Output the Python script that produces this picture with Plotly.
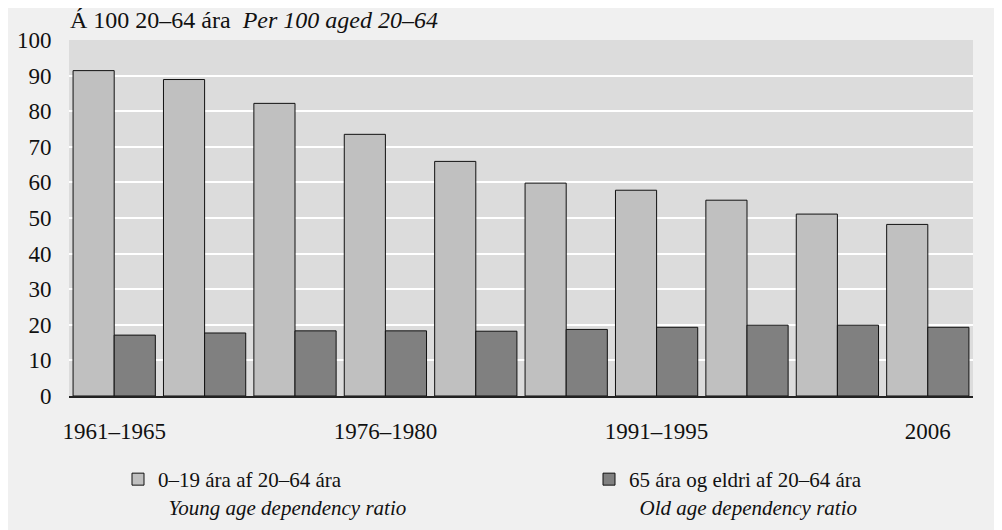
import plotly.graph_objects as go

categories = ["1961–1965", "1966–1970", "1971–1975", "1976–1980", "1981–1985",
              "1986–1990", "1991–1995", "1996–2000", "2001–2005", "2006"]
young = [91.4, 88.9, 82.2, 73.5, 65.9, 59.8, 57.8, 55.0, 51.1, 48.2]
old = [17.1, 17.7, 18.3, 18.3, 18.2, 18.7, 19.3, 19.9, 19.9, 19.3]
labelled = ["1961–1965", "1976–1980", "1991–1995", "2006"]
y_ticks = [0, 10, 20, 30, 40, 50, 60, 70, 80, 90, 100]

name_young = "0–19 ára af 20–64 ára<br>  <i>Young age dependency ratio</i>"
name_old = "65 ára og eldri af 20–64 ára<br>  <i>Old age dependency ratio</i>"
title_text = "Á 100 20–64 ára  <i>Per 100 aged 20–64</i>"

FONT = "Liberation Serif"

fig = go.Figure()
fig.add_trace(go.Bar(x=categories, y=young, name=name_young, legend="legend",
                     marker=dict(color="#c0c0c0", line=dict(color="#111111", width=1))))
fig.add_trace(go.Bar(x=categories, y=old, name=name_old, legend="legend2",
                     marker=dict(color="#808080", line=dict(color="#111111", width=1))))

leg_common = dict(yref="container", xref="container", y=1 - 451 / 530, yanchor="top",
                  xanchor="left", bgcolor="rgba(0,0,0,0)",
                  font=dict(family=FONT, size=21, color="#111111"), valign="top")

fig.update_layout(
    width=1002, height=530,
    barmode="group", bargap=0.09, bargroupgap=0,
    paper_bgcolor="#f0f0f0", plot_bgcolor="#dcdcdc",
    margin=dict(l=61, r=37, t=32, b=142, autoexpand=False),
    font=dict(family=FONT, size=22, color="#111111"),
    title=dict(text=title_text, x=62 / 1002, xanchor="left", xref="container",
               y=1 - 12 / 530, yanchor="middle", yref="container",
               font=dict(family=FONT, size=24, color="#111111")),
    showlegend=True,
    legend=dict(x=110 / 1002, **leg_common),
    legend2=dict(x=581 / 1002, **leg_common),
)
fig.update_xaxes(type="category", tickmode="array", tickvals=labelled, ticktext=labelled,
                 showgrid=False, showline=True, linecolor="#222222", linewidth=1.5,
                 ticks="outside", ticklen=14, tickcolor="rgba(0,0,0,0)",
                 tickfont=dict(family=FONT, size=23))
fig.update_yaxes(range=[0, 100], tickvals=y_ticks, showgrid=True, gridcolor="#ffffff",
                 gridwidth=1.5, zeroline=False, showline=False,
                 ticks="outside", ticklen=12, tickcolor="rgba(0,0,0,0)",
                 tickfont=dict(family=FONT, size=23))

fig.write_html("out.html")
